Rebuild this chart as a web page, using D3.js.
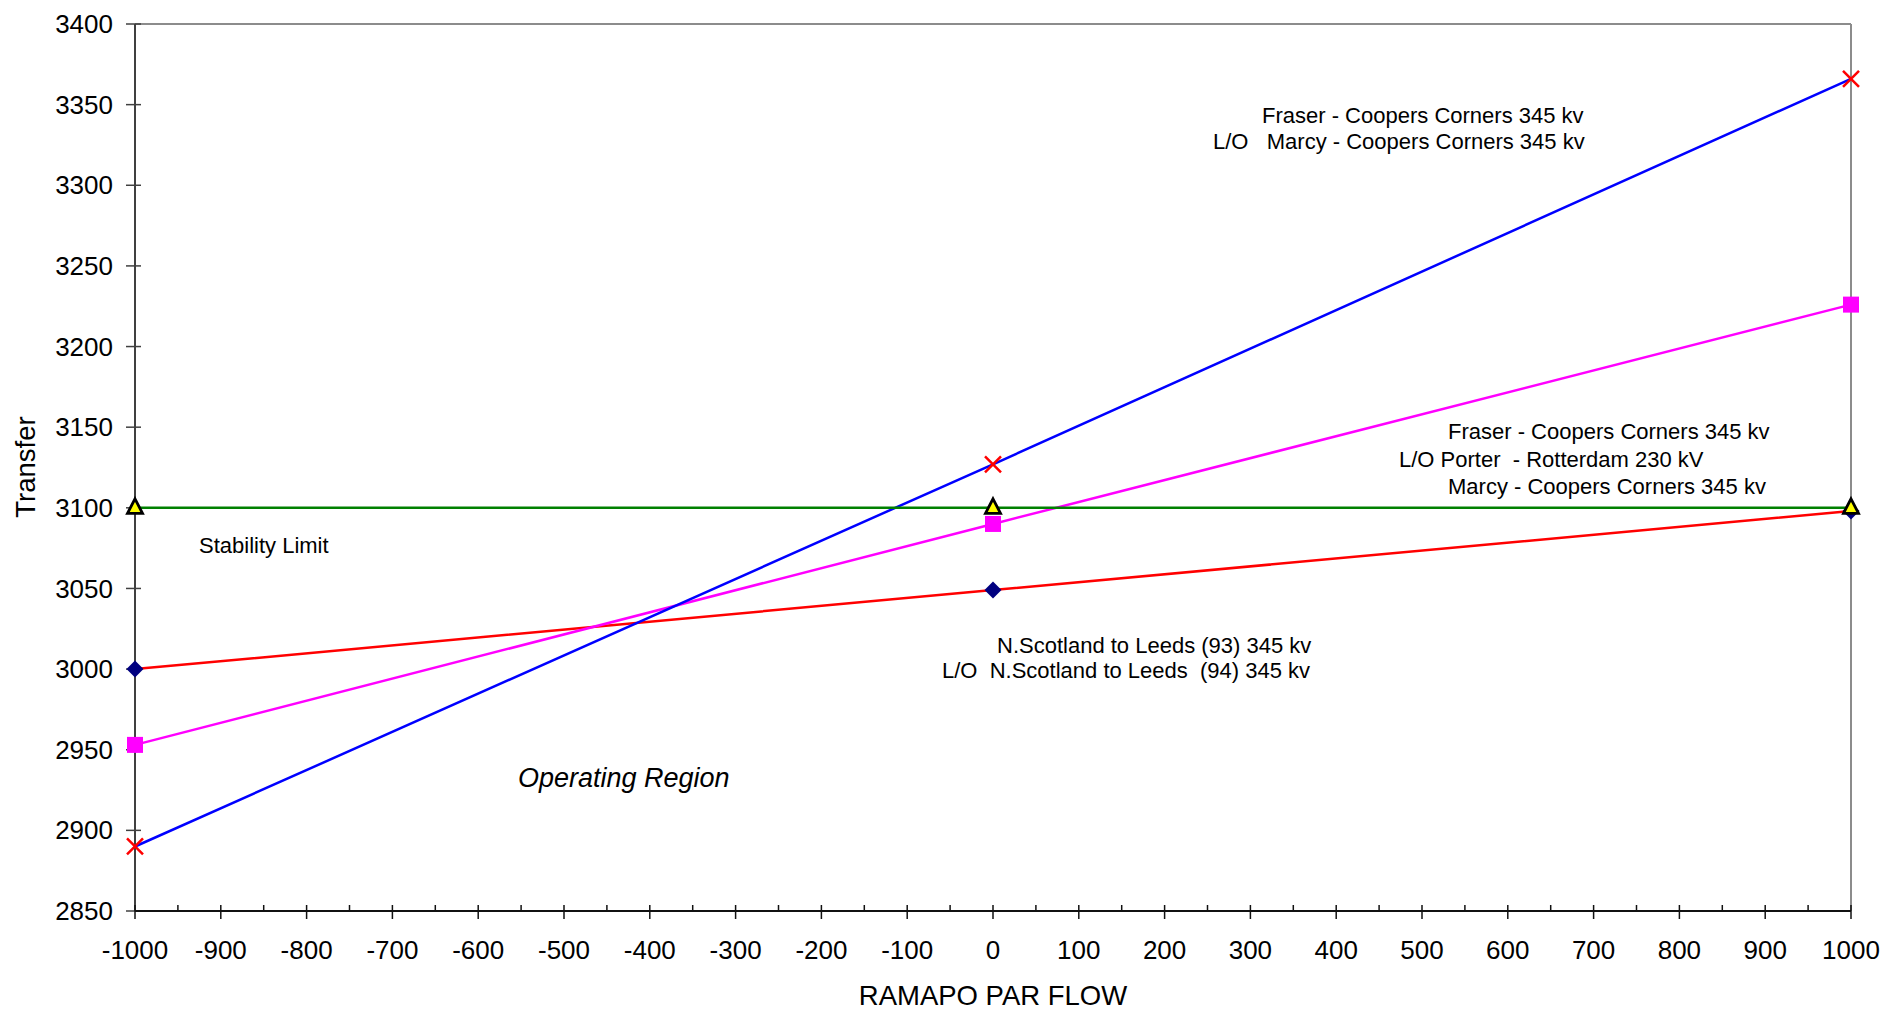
<!DOCTYPE html>
<html><head><meta charset="utf-8">
<script src="https://cdn.jsdelivr.net/npm/d3@7"></script>
<style>body{margin:0;background:#fff}svg{display:block;font-family:"Liberation Sans",Arial,sans-serif}</style>
</head><body>
<script>
const xValues = [-1000, 0, 1000];
const seriesNScotland = [3000, 3049, 3098];
const seriesPorter = [2953, 3090, 3226];
const seriesMarcy = [2890, 3127, 3366];
const seriesStability = [3100, 3100, 3100];
const yTicks = [2850,2900,2950,3000,3050,3100,3150,3200,3250,3300,3350,3400];
const xTicks = d3.range(-1000, 1001, 100);
const xMinorTicks = d3.range(-950, 1000, 100);

const W = 1887, H = 1010;
const svg = d3.select("body").append("svg").attr("width", W).attr("height", H);
const x = d3.scaleLinear().domain([-1000, 1000]).range([135, 1851]);
const y = d3.scaleLinear().domain([2850, 3400]).range([911, 24]);

// frame top/right
svg.append("line").attr("x1", x(-1000)).attr("x2", x(1000)).attr("y1", y(3400)).attr("y2", y(3400)).attr("stroke", "#8c8c8c").attr("stroke-width", 2);
svg.append("line").attr("x1", x(1000)).attr("x2", x(1000)).attr("y1", y(3400)).attr("y2", y(2850)).attr("stroke", "#8c8c8c").attr("stroke-width", 2);

// y axis
const gy = svg.append("g");
gy.append("line").attr("x1", x(-1000)).attr("x2", x(-1000)).attr("y1", y(3400)).attr("y2", y(2850)).attr("stroke", "#404040").attr("stroke-width", 2);
gy.selectAll("line.t").data(yTicks).enter().append("line").attr("class","t")
  .attr("x1", x(-1000) - 9).attr("x2", x(-1000) + 6).attr("y1", d => y(d)).attr("y2", d => y(d)).attr("stroke", "#404040").attr("stroke-width", 1.5);
gy.selectAll("text").data(yTicks).enter().append("text")
  .attr("x", 113).attr("y", d => y(d)).attr("dy", "0.35em").attr("text-anchor", "end")
  .attr("font-size", 26).text(d => d);

// x axis
const gx = svg.append("g");
gx.append("line").attr("x1", x(-1000)).attr("x2", x(1000)).attr("y1", y(2850)).attr("y2", y(2850)).attr("stroke", "#111").attr("stroke-width", 2);
gx.selectAll("line.t").data(xTicks).enter().append("line").attr("class","t")
  .attr("x1", d => x(d)).attr("x2", d => x(d)).attr("y1", y(2850) - 6).attr("y2", y(2850) + 8).attr("stroke", "#111").attr("stroke-width", 1.5);
gx.selectAll("line.m").data(xMinorTicks).enter().append("line").attr("class","m")
  .attr("x1", d => x(d)).attr("x2", d => x(d)).attr("y1", y(2850) - 6).attr("y2", y(2850)).attr("stroke", "#111").attr("stroke-width", 1.5);
gx.selectAll("text").data(xTicks).enter().append("text")
  .attr("x", d => x(d)).attr("y", 959).attr("text-anchor", "middle")
  .attr("font-size", 26).text(d => d);

// axis titles
svg.append("text").attr("x", 993).attr("y", 1005).attr("text-anchor", "middle").attr("font-size", 27.5).text("RAMAPO PAR FLOW");
svg.append("text").attr("transform", "translate(35,467) rotate(-90)").attr("text-anchor", "middle").attr("font-size", 27.5).text("Transfer");

const line = d3.line().x(d => x(d[0])).y(d => y(d[1]));
const series = [
  {vals: seriesNScotland, color: "#ff0000", marker: "diamond"},
  {vals: seriesPorter, color: "#ff00ff", marker: "square"},
  {vals: seriesMarcy, color: "#0000ff", marker: "x"},
  {vals: seriesStability, color: "#008000", marker: "triangle"}
];
series.forEach(s => {
  const pts = xValues.map((xv, i) => [xv, s.vals[i]]);
  svg.append("path").attr("d", line(pts)).attr("fill", "none").attr("stroke", s.color).attr("stroke-width", 2.5);
});
series.forEach(s => {
  const pts = xValues.map((xv, i) => [xv, s.vals[i]]);
  const g = svg.append("g");
  pts.forEach(p => {
    const cx = x(p[0]), cy = y(p[1]);
    if (s.marker === "diamond") {
      g.append("path").attr("d", `M${cx},${cy-8.5}L${cx+8.5},${cy}L${cx},${cy+8.5}L${cx-8.5},${cy}Z`).attr("fill", "#000080");
    } else if (s.marker === "square") {
      g.append("rect").attr("x", cx-8).attr("y", cy-8).attr("width", 16).attr("height", 16).attr("fill", "#ff00ff");
    } else if (s.marker === "x") {
      g.append("path").attr("d", `M${cx-8},${cy-8}L${cx+8},${cy+8}M${cx-8},${cy+8}L${cx+8},${cy-8}`).attr("stroke", "#ff0000").attr("stroke-width", 2.5);
    } else {
      g.append("path").attr("d", `M${cx},${cy-9}L${cx+7.5},${cy+5.5}L${cx-7.5},${cy+5.5}Z`).attr("fill", "#ffff00").attr("stroke", "#000").attr("stroke-width", 2.8).attr("stroke-linejoin","miter");
    }
  });
});

// annotations
const ann = [
  ["Fraser - Coopers Corners 345 kv", 1262, 122.5],
  ["L/O   Marcy - Coopers Corners 345 kv", 1213, 148.5],
  ["Fraser - Coopers Corners 345 kv", 1448, 439],
  ["L/O Porter  - Rotterdam 230 kV", 1399, 467],
  ["Marcy - Coopers Corners 345 kv", 1448, 494],
  ["N.Scotland to Leeds (93) 345 kv", 997, 653],
  ["L/O  N.Scotland to Leeds  (94) 345 kv", 942, 678],
  ["Stability Limit", 199, 553]
];
ann.forEach(a => svg.append("text").attr("x", a[1]).attr("y", a[2]).attr("font-size", 22).attr("xml:space","preserve").style("white-space","pre").text(a[0]));
svg.append("text").attr("x", 518).attr("y", 787).attr("font-size", 27).attr("font-style", "italic").text("Operating Region");
</script>
</body></html>
